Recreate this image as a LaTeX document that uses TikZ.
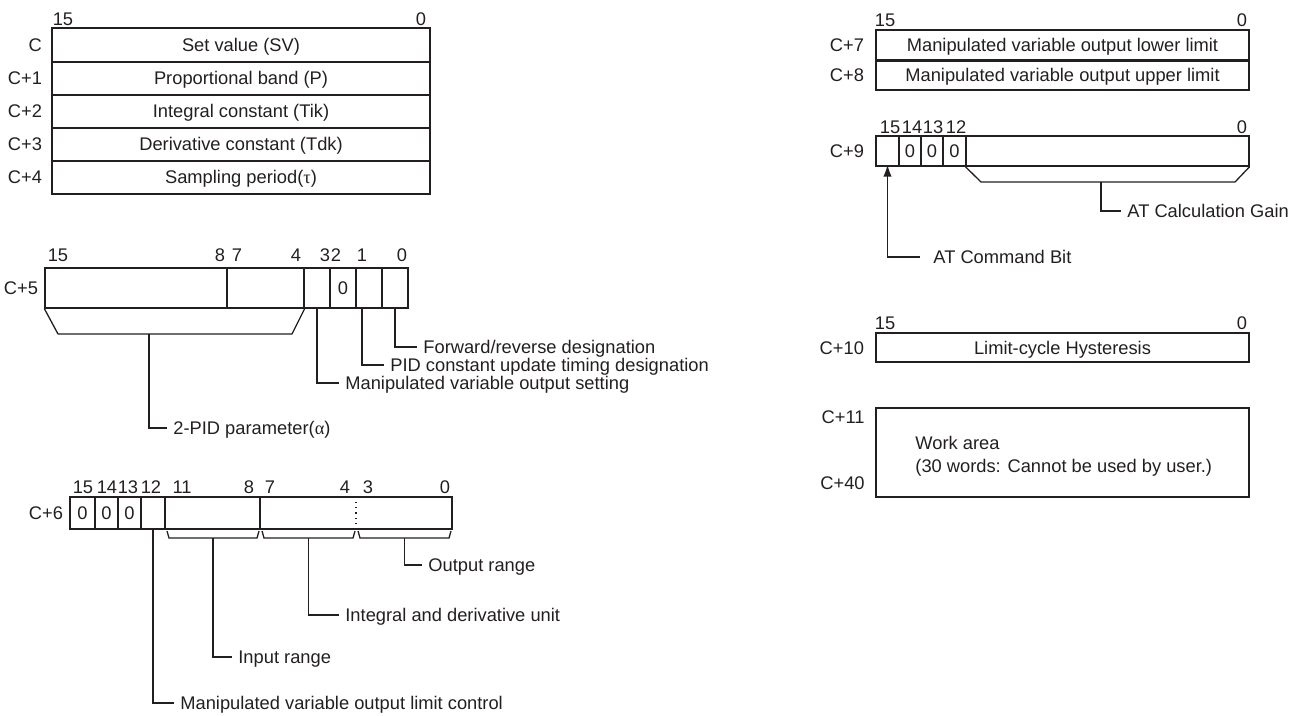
\documentclass[tikz,border=0pt]{standalone}
\usepackage{fontspec}
\setmainfont{Liberation Sans}
\newfontfamily\greekfnt{Liberation Serif}
\usepackage{tikz}
\usetikzlibrary{arrows.meta, positioning}
\definecolor{ink}{RGB}{35,31,32}

\begin{document}
\begin{tikzpicture}[x=0.5pt,y=-0.5pt,
 every node/.style={font=\fontsize{9.15}{11}\selectfont,text=ink,inner sep=0pt,text height=6.6pt,text depth=0pt},
 cell/.style={draw=ink,line width=0.65pt,minimum height=#1},
 bitlab/.style={anchor=center},
 reglab/.style={anchor=east},
 note/.style={anchor=west,inner xsep=3pt},
 lead/.style={draw=ink,line width=0.65pt},
 sep/.style={draw=ink,line width=1pt},
 arr/.style={lead,-{Latex[length=6pt,width=4.2pt]}}]
\useasboundingbox (0,0) rectangle (1310,716);
\node[bitlab] (a15) at (63,19) {15};
\node[bitlab] (a0) at (421,19) {0};
\foreach \lab/\txt [count=\i] in {C/Set value (SV), C+1/Proportional band (P), C+2/Integral constant (Tik), C+3/Derivative constant (Tdk), C+4/Sampling period({\greekfnt τ})}{
 \node[cell=16.6pt,minimum width=189pt] (r\i) at (241,{28+33.2*(\i-0.5)}) {\txt};
 \node[reglab,left=4.5pt of r\i] (rl\i) {\lab};
}
\foreach \i in {1,...,4}
 \draw[sep] (r\i.south west) -- (r\i.south east);
\foreach \b/\x in {15/58, 8/220, 7/237, 4/296, 3/325, 2/336, 1/362, 0/402}
 \node[bitlab] (p\b) at (\x,255) {\b};
\foreach \n/\l/\r/\t in {hi/45/227/{}, mid/227/304/{}, b3/304/330/{}, b2/330/356/0, b1/356/382/{}, b0/382/408/{}}
 \node[cell=20pt,minimum width={(\r-\l)*0.5pt}] (q\n) at ({(\l+\r)/2},288) {\t};
\node[reglab,left=3pt of qhi] (c5) {C+5};
\draw[lead] (qhi.south west) -- (58,334) -- (292,334) -- (qmid.south east);
\coordinate (tp) at (149,334);
\node[note] (alpha) at (167,428) {2-PID parameter({\greekfnt α})};
\node[note] (mvset) at (339,383) {Manipulated variable output setting};
\node[note] (pidupd) at (384,365) {PID constant update timing designation};
\node[note] (fwd) at (417,347) {Forward/reverse designation};
\draw[lead] (tp) |- (alpha.west);
\draw[lead] (qb3.south) |- (mvset.west);
\draw[lead] ([xshift=-3.5pt]qb1.south) |- (pidupd.west);
\draw[lead] (qb0.south) |- (fwd.west);
\foreach \b/\x in {15/83, 14/107, 13/128, 12/151, 11/182, 8/249, 7/270, 4/345, 3/368, 0/445}
 \node[bitlab] (s\b) at (\x,487) {\b};
\foreach \n/\l/\r/\t in {b15/70/95/0, b14/95/118/0, b13/118/141/0, b12/141/165/{}, in/165/260/{}, lo/260/452/{}}
 \node[cell=16pt,minimum width={(\r-\l)*0.5pt}] (u\n) at ({(\l+\r)/2},513) {\t};
\node[reglab,left=3pt of ub15] (c6) {C+6};
\draw[lead,dotted] (ulo.north) -- (ulo.south);
\foreach \l/\r [count=\k] in {167/259, 262/355, 358/451}{
 \draw[lead] (\l,531) -- (\l+2,538) -- (\r-2,538) -- (\r,531);
 \coordinate (br\k) at ({(\l+\r)/2},538);
}
\node[note] (outrng) at (422,565) {Output range};
\node[note] (idunit) at (339,615) {Integral and derivative unit};
\node[note] (inrng) at (232,657) {Input range};
\node[note] (mvlim) at (174,703) {Manipulated variable output limit control};
\draw[lead] (br3) |- (outrng.west);
\draw[lead] (br2) |- (idunit.west);
\draw[lead] (br1) |- (inrng.west);
\draw[lead] (ub12.south) |- (mvlim.west);
\node[bitlab] (t15) at (885,20) {15};
\node[bitlab] (t0) at (1242,20) {0};
\node[cell=15pt,minimum width=186.5pt] (lolim) at (1062.5,45) {Manipulated variable output lower limit};
\node[cell=15pt,minimum width=186.5pt] (hilim) at (1062.5,75) {Manipulated variable output upper limit};
\draw[sep] (lolim.south west) -- (lolim.south east);
\node[reglab,left=5.5pt of lolim] (c7) {C+7};
\node[reglab,left=5.5pt of hilim] (c8) {C+8};
\foreach \b/\x in {15/890, 14/912, 13/933, 12/956, 0/1242}
 \node[bitlab] (v\b) at (\x,127) {\b};
\foreach \n/\l/\r/\t in {b15/876/899/{}, b14/899/921/0, b13/921/943/0, b12/943/966/0, gain/966/1249/{}}
 \node[cell=15pt,minimum width={(\r-\l)*0.5pt}] (v\n) at ({(\l+\r)/2},151) {\t};
\node[reglab,left=5.5pt of vb15] (c9) {C+9};
\draw[lead] (vgain.south west) -- (981,182) -- (1235,182) -- (vgain.south east);
\coordinate (gt) at (1101,182);
\node[note] (atgain) at (1121,211) {AT Calculation Gain};
\node[note] (atcmd) at (927,257) {AT Command Bit};
\draw[lead] (gt) |- (atgain.west);
\draw[arr,shorten <=3.5pt,shorten >=-1pt] (atcmd.west) -| (vb15.south);
\node[bitlab] (w15) at (885,323) {15};
\node[bitlab] (w0) at (1242,323) {0};
\node[cell=14.5pt,minimum width=186.5pt] (hys) at (1062.5,347.5) {Limit-cycle Hysteresis};
\node[reglab,left=5.5pt of hys] (c10) {C+10};
\node[cell=44.5pt,minimum width=186.5pt] (work) at (1062.5,452.5) {};
\node[reglab] (c11) at (865,417) {C+11};
\node[reglab] (c40) at (865,483) {C+40};
\node[anchor=west] (wa1) at (915,443) {Work area};
\node[anchor=west] (wa2) at (915,466) {(30 words: Cannot be used by user.)};
\end{tikzpicture}
\end{document}
